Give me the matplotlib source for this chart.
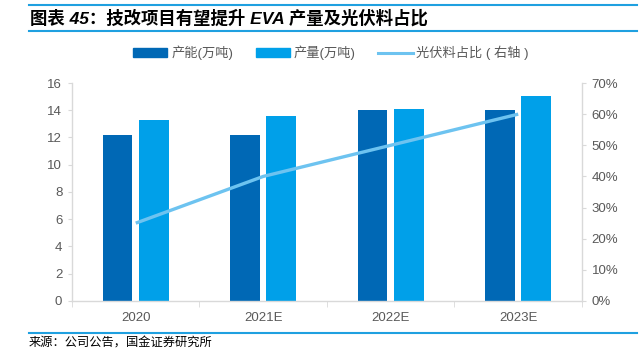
import matplotlib.pyplot as plt
from matplotlib.lines import Line2D
from matplotlib.patches import Patch
from matplotlib.ticker import FuncFormatter, MultipleLocator
import numpy as np

plt.rcParams['font.family'] = ['Liberation Sans', 'Noto Sans CJK SC', 'DejaVu Sans']

years = ['2020', '2021E', '2022E', '2023E']
capacity = [12.2, 12.2, 14.0, 14.0]      # 产能(万吨)
output = [13.25, 13.6, 14.1, 15.05]      # 产量(万吨)
pv_share = [25, 40, 50, 60]              # 光伏料占比 (%)

c_dark = '#0068B5'
c_light = '#00A0E9'
c_line = '#6DC3F0'
c_axis = '#D9D9D9'
c_text = '#595959'
c_rule = '#1FA0E0'

fig = plt.figure(figsize=(6.44, 3.57), dpi=100)
ax = fig.add_axes([0.1118, 0.1569, 0.7919, 0.6106])
ax2 = ax.twinx()

x = np.arange(len(years))
w = 0.235
ax.bar(x - 0.143, capacity, w, color=c_dark, zorder=2)
ax.bar(x + 0.143, output, w, color=c_light, zorder=2)
ax2.plot(x, pv_share, color=c_line, lw=2.4, solid_capstyle='butt', zorder=3)

ax.set_xlim(-0.5, 3.5)
ax.set_ylim(0, 16)
ax.yaxis.set_major_locator(MultipleLocator(2))
ax2.set_ylim(0, 70)
ax2.yaxis.set_major_locator(MultipleLocator(10))
ax2.yaxis.set_major_formatter(FuncFormatter(lambda v, p: f'{v:.0f}%'))

ax.set_xticks(x)
ax.set_xticklabels(years)
ax.set_xticks(np.arange(-0.5, 4, 1), minor=True)
ax.tick_params(axis='x', which='major', length=0, pad=8, labelsize=9.5, labelcolor=c_text)
ax.tick_params(axis='x', which='minor', length=4, color=c_axis)
ax.tick_params(axis='y', length=3, color=c_axis, labelsize=9.5, labelcolor=c_text, pad=4)
ax2.tick_params(axis='y', length=3, color=c_axis, labelsize=9.5, labelcolor=c_text, pad=4)

for a in (ax, ax2):
    for s in a.spines.values():
        s.set_visible(False)
ax.spines['left'].set_visible(True)
ax.spines['bottom'].set_visible(True)
ax2.spines['right'].set_visible(True)
for s in (ax.spines['left'], ax.spines['bottom'], ax2.spines['right']):
    s.set_color(c_axis)
    s.set_linewidth(1)

handles = [Patch(color=c_dark), Patch(color=c_light),
           Line2D([0], [0], color=c_line, lw=2.2)]
labels = ['产能(万吨)', '产量(万吨)', '光伏料占比 ( 右轴 )']
fig.legend(handles, labels, loc='center', bbox_to_anchor=(0.514, 0.852),
           ncol=3, frameon=False, fontsize=9.5, labelcolor=c_text,
           handlelength=2.6, handleheight=0.6, columnspacing=1.7, handletextpad=0.3)

# title and rules
fig.add_artist(Line2D([0.045, 0.989], [0.985, 0.985], color=c_rule, lw=1.5))
fig.add_artist(Line2D([0.045, 0.989], [0.912, 0.912], color=c_rule, lw=1.5))
fig.text(0.046, 0.949, '图表 45：技改项目有望提升 EVA 产量及光伏料占比', fontsize=12.5,
         fontweight='bold', style='italic', va='center', ha='left', color='black')
fig.add_artist(Line2D([0.045, 0.989], [0.067, 0.067], color=c_rule, lw=1.5))
fig.text(0.045, 0.039, '来源：公司公告，国金证券研究所', fontsize=8.8, va='center', ha='left',
         color='black', family=['Noto Sans CJK SC'])

fig.savefig('out.png', dpi=100)
